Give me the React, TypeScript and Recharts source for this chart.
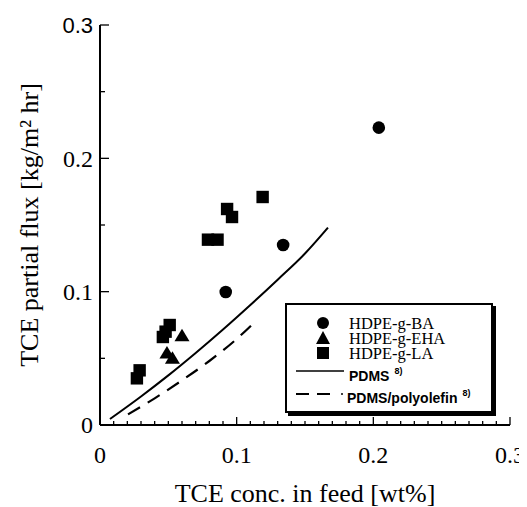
import React from 'react';
import { ComposedChart, Scatter, Line, XAxis, YAxis, Legend } from 'recharts';

// ---- data ----
const baX = [0.092, 0.134, 0.204];
const baY = [0.0998, 0.135, 0.223];
const ehaX = [0.049, 0.053, 0.060];
const ehaY = [0.054, 0.050, 0.067];
const laX = [0.027, 0.029, 0.046, 0.048, 0.051, 0.079, 0.086, 0.093, 0.0966, 0.119];
const laY = [0.035, 0.041, 0.066, 0.070, 0.075, 0.139, 0.139, 0.162, 0.156, 0.171];
const pdmsX = [0.0073, 0.03, 0.05, 0.07, 0.09, 0.11, 0.13, 0.15, 0.1668];
const pdmsY = [0.0045, 0.0214, 0.0372, 0.054, 0.0716, 0.09, 0.109, 0.1286, 0.148];
const polyX = [0.0205, 0.04, 0.06, 0.08, 0.10, 0.114];
const polyY = [0.008, 0.020, 0.0335, 0.048, 0.0645, 0.078];

const seriesNames = ['HDPE-g-BA', 'HDPE-g-EHA', 'HDPE-g-LA', 'PDMS', 'PDMS/polyolefin'];
const refMark = '8)';

const xMinorTicks = [0, 0.01, 0.02, 0.03, 0.04, 0.05, 0.06, 0.07, 0.08, 0.09, 0.1, 0.11, 0.12, 0.13, 0.14, 0.15, 0.16, 0.17, 0.18, 0.19, 0.2, 0.21, 0.22, 0.23, 0.24, 0.25, 0.26, 0.27, 0.28, 0.29, 0.3];
const xMajorTicks = [0, 0.1, 0.2, 0.3];
const xTickLabels = ['0', '0.1', '0.2', '0.3'];
const yMinorTicks = [0, 0.05, 0.1, 0.15, 0.2, 0.25, 0.3];
const yMajorTicks = [0, 0.1, 0.2, 0.3];
const yTickLabels = ['0', '0.1', '0.2', '0.3'];

const xTitle = 'TCE conc. in feed [wt%]';
const yTitle = 'TCE partial flux [kg/m\u00B2 hr]';

const zip = (xs: number[], ys: number[]) => xs.map((x, i) => ({ x, y: ys[i] }));
const baData = zip(baX, baY);
const ehaData = zip(ehaX, ehaY);
const laData = zip(laX, laY);
const pdmsData = zip(pdmsX, pdmsY);
const polyData = zip(polyX, polyY);

const SERIF = '"Liberation Serif", "DejaVu Serif", serif';
const SANS = '"Liberation Sans", Arial, sans-serif';

const majorIndex = (list: number[], v: number) => list.findIndex((m) => Math.abs(m - v) < 1e-9);

const BottomTick = (props: any) => {
  const { x, y, payload } = props;
  const idx = majorIndex(xMajorTicks, payload.value);
  const len = idx >= 0 ? 8 : 4;
  return (
    <g>
      <line x1={x} y1={y} x2={x} y2={y - len} stroke="#000" strokeWidth={1.3} />
      {idx >= 0 && (
        <text x={x} y={y + 38} textAnchor="middle" style={{ fontFamily: SERIF, fontSize: 24 }} fill="#000">
          {xTickLabels[idx]}
        </text>
      )}
    </g>
  );
};

const TopTick = (props: any) => {
  const { x, y, payload } = props;
  const idx = majorIndex(xMajorTicks, payload.value);
  const len = idx >= 0 ? 8 : 4;
  return <line x1={x} y1={y} x2={x} y2={y + len} stroke="#000" strokeWidth={1.3} />;
};

const LeftTick = (props: any) => {
  const { x, y, payload } = props;
  const idx = majorIndex(yMajorTicks, payload.value);
  const len = idx >= 0 ? 9 : 5;
  const isTop = idx === yMajorTicks.length - 1;
  return (
    <g>
      <line x1={x} y1={y} x2={x + len} y2={y} stroke="#000" strokeWidth={1.3} />
      {idx >= 0 && (
        <text
          x={x - 7}
          y={y}
          dy="0.35em"
          textAnchor="end"
          style={{ fontFamily: isTop ? SANS : SERIF, fontSize: isTop ? 22 : 24 }}
          fill="#000"
        >
          {yTickLabels[idx]}
        </text>
      )}
    </g>
  );
};

const RightTick = (props: any) => {
  const { x, y, payload } = props;
  const idx = majorIndex(yMajorTicks, payload.value);
  const len = idx >= 0 ? 9 : 5;
  return <line x1={x} y1={y} x2={x - len} y2={y} stroke="#000" strokeWidth={1.3} />;
};

const CircleShape = (p: any) => <circle cx={p.cx} cy={p.cy} r={6.3} fill="#000" />;
const TriangleShape = (p: any) => (
  <polygon
    points={`${p.cx},${p.cy - 7} ${p.cx - 7.5},${p.cy + 5.5} ${p.cx + 7.5},${p.cy + 5.5}`}
    fill="#000"
  />
);
const SquareShape = (p: any) => <rect x={p.cx - 6.2} y={p.cy - 6.2} width={12.4} height={12.4} fill="#000" />;

const LegendBox = () => (
  <div
    style={{
      width: 208,
      height: 110,
      boxSizing: 'border-box',
      border: '2px solid #000',
      boxShadow: '3px 3px 0 #000',
      background: '#fff',
      position: 'relative',
    }}
  >
    <svg width={204} height={106} style={{ position: 'absolute', left: 0, top: 0 }}>
      <circle cx={36} cy={18} r={6} fill="#000" />
      <polygon points="36,26 29,39 43,39" fill="#000" />
      <rect x={30} y={42} width={12} height={12} fill="#000" />
      <text x={62} y={24} style={{ fontFamily: SERIF, fontSize: 16.5 }} fill="#000">{seriesNames[0]}</text>
      <text x={62} y={39} style={{ fontFamily: SERIF, fontSize: 16.5 }} fill="#000">{seriesNames[1]}</text>
      <text x={62} y={54} style={{ fontFamily: SERIF, fontSize: 16.5 }} fill="#000">{seriesNames[2]}</text>
      <line x1={9} y1={66} x2={57} y2={66} stroke="#000" strokeWidth={1.6} />
      <text x={62} y={76} style={{ fontFamily: SANS, fontSize: 14, fontWeight: 'bold' }} fill="#000">
        {seriesNames[3]}
        <tspan dx={5} dy={-7} style={{ fontSize: 9 }}>{refMark}</tspan>
      </text>
      <line x1={9} y1={89} x2={45} y2={89} stroke="#000" strokeWidth={2} strokeDasharray="13 8" />
      <circle cx={55} cy={89} r={1} fill="#000" />
      <text x={60} y={98} style={{ fontFamily: SANS, fontSize: 14, fontWeight: 'bold' }} fill="#000">
        {seriesNames[4]}
        <tspan dx={5} dy={-7} style={{ fontSize: 9 }}>{refMark}</tspan>
      </text>
    </svg>
  </div>
);

export default function App() {
  return (
    <ComposedChart
      width={519}
      height={499}
      margin={{ top: 17, right: 17, bottom: 0, left: 0 }}
      style={{ background: '#fff' }}
    >
      <XAxis
        xAxisId="bottom"
        type="number"
        dataKey="x"
        domain={[0, 0.3]}
        ticks={xMinorTicks}
        interval={0}
        orientation="bottom"
        height={82}
        tickSize={0}
        tickMargin={0}
        tickLine={false}
        tick={BottomTick}
        axisLine={{ stroke: '#000', strokeWidth: 2 }}
        allowDataOverflow
        label={{ value: xTitle, position: 'insideBottom', offset: 5, style: { fontFamily: SERIF, fontSize: 26 }, fill: '#000' }}
      />
      <XAxis
        xAxisId="top"
        type="number"
        dataKey="x"
        domain={[0, 0.3]}
        ticks={xMinorTicks}
        interval={0}
        orientation="top"
        height={0}
        tickSize={0}
        tickMargin={0}
        tickLine={false}
        tick={TopTick}
        axisLine={{ stroke: '#000', strokeWidth: 2 }}
        allowDataOverflow
      />
      <YAxis
        yAxisId="left"
        type="number"
        dataKey="y"
        domain={[0, 0.3]}
        ticks={yMinorTicks}
        interval={0}
        orientation="left"
        width={92}
        tickSize={0}
        tickMargin={0}
        tickLine={false}
        tick={LeftTick}
        axisLine={{ stroke: '#000', strokeWidth: 2 }}
        allowDataOverflow
        label={{ value: yTitle, angle: -90, position: 'center', dx: -25, style: { fontFamily: SERIF, fontSize: 26 }, fill: '#000' }}
      />
      <YAxis
        yAxisId="right"
        type="number"
        dataKey="y"
        domain={[0, 0.3]}
        ticks={yMinorTicks}
        interval={0}
        orientation="right"
        width={0}
        tickSize={0}
        tickMargin={0}
        tickLine={false}
        tick={RightTick}
        axisLine={{ stroke: '#000', strokeWidth: 2 }}
        allowDataOverflow
      />
      <Line
        xAxisId="bottom"
        yAxisId="left"
        data={pdmsData}
        dataKey="y"
        type="monotone"
        stroke="#000"
        strokeWidth={2}
        dot={false}
        activeDot={false}
        isAnimationActive={false}
        name={seriesNames[3]}
      />
      <Line
        xAxisId="bottom"
        yAxisId="left"
        data={polyData}
        dataKey="y"
        type="monotone"
        stroke="#000"
        strokeWidth={2.2}
        strokeDasharray="14 9"
        dot={false}
        activeDot={false}
        isAnimationActive={false}
        name={seriesNames[4]}
      />
      <Scatter xAxisId="bottom" yAxisId="left" data={baData} dataKey="y" shape={CircleShape} isAnimationActive={false} name={seriesNames[0]} />
      <Scatter xAxisId="bottom" yAxisId="left" data={ehaData} dataKey="y" shape={TriangleShape} isAnimationActive={false} name={seriesNames[1]} />
      <Scatter xAxisId="bottom" yAxisId="left" data={laData} dataKey="y" shape={SquareShape} isAnimationActive={false} name={seriesNames[2]} />
      <Legend
        layout="vertical"
        align="center"
        verticalAlign="middle"
        content={LegendBox}
        wrapperStyle={{ left: 277, top: 295, width: 208, height: 110 }}
      />
    </ComposedChart>
  );
}
